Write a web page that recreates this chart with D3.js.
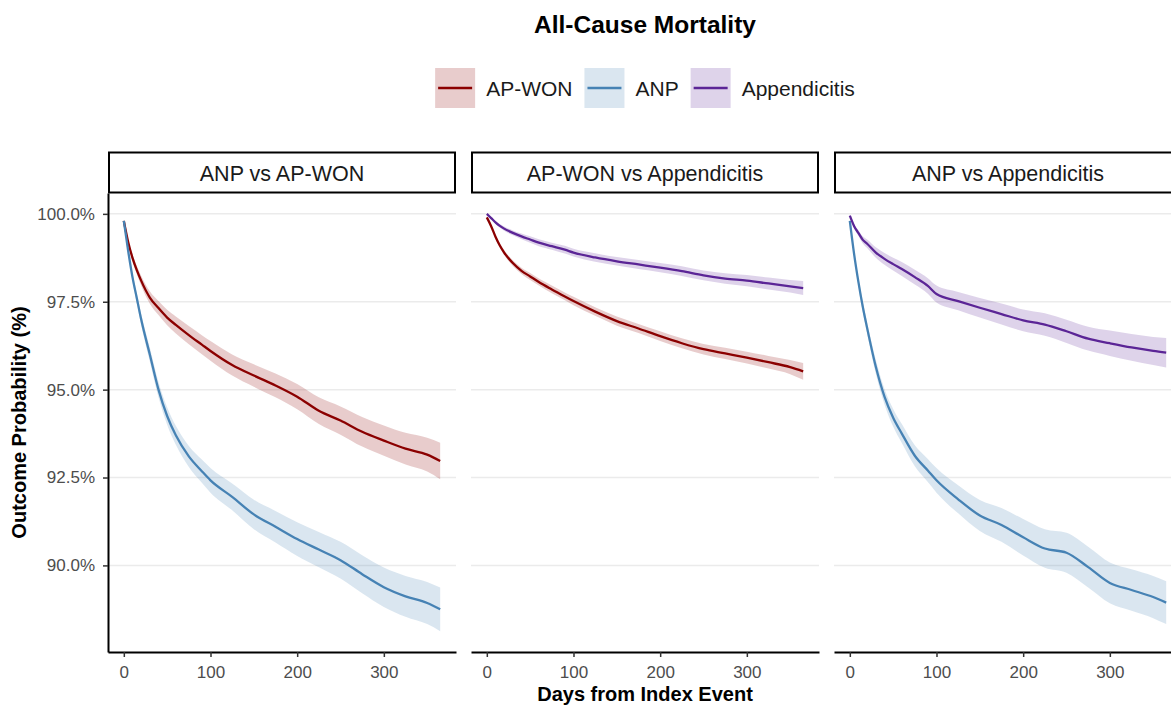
<!DOCTYPE html>
<html>
<head>
<meta charset="utf-8">
<script src="https://cdn.jsdelivr.net/npm/d3@7"></script>
<style>
  body { margin: 0; background: #fff; }
  svg { display: block; font-family: "Liberation Sans", Arial, Helvetica, sans-serif; }
  .grid line { stroke: #ebebeb; stroke-width: 1.5; }
  .axis path, .axis line { stroke: #000; }
  .axis .tick line { stroke: #333; stroke-width: 1.5; }
  .axis .domain { stroke-width: 2; }
  .axis text { font-size: 17px; fill: #4d4d4d; }
</style>
</head>
<body>
<svg id="chart" width="1171" height="706"></svg>
<script>
// days from index event (shared grid for all curves)
const days = [0, 5, 10, 15, 20, 30, 40, 50, 60, 75, 90, 100, 125, 150, 175, 200, 225, 250, 275, 300, 325, 350, 365];

const panelTitles = ['ANP vs AP-WON', 'AP-WON vs Appendicitis', 'ANP vs Appendicitis'];
const groups = ['AP-WON', 'ANP', 'Appendicitis'];
const groupColors = ['#8b0000', '#4682b4', '#5b2596'];
const yTicks = [90, 92.5, 95, 97.5, 100];
const xTicks = [0, 100, 200, 300];

// panel 1: ANP vs AP-WON
const p1ApwonEst = [99.8, 99.2, 98.75, 98.4, 98.1, 97.62, 97.32, 97.05, 96.84, 96.55, 96.28, 96.1, 95.7, 95.4, 95.12, 94.8, 94.4, 94.12, 93.8, 93.55, 93.32, 93.15, 92.97];
const p1ApwonUp  = [99.8, 99.26, 98.85, 98.52, 98.24, 97.8, 97.52, 97.27, 97.08, 96.81, 96.55, 96.38, 96.0, 95.72, 95.46, 95.16, 94.78, 94.52, 94.22, 93.98, 93.77, 93.63, 93.49];
const p1ApwonLo  = [99.8, 99.14, 98.65, 98.28, 97.96, 97.44, 97.12, 96.83, 96.6, 96.29, 96.01, 95.82, 95.4, 95.08, 94.78, 94.44, 94.02, 93.72, 93.38, 93.12, 92.87, 92.67, 92.45];
const p1AnpEst = [99.8, 98.95, 98.2, 97.6, 97.0, 96.0, 95.0, 94.25, 93.7, 93.1, 92.68, 92.42, 91.95, 91.45, 91.1, 90.75, 90.45, 90.15, 89.75, 89.38, 89.12, 88.93, 88.75];
const p1AnpUp  = [99.8, 99.03, 98.32, 97.74, 97.16, 96.2, 95.22, 94.5, 93.97, 93.4, 93.01, 92.77, 92.33, 91.87, 91.55, 91.23, 90.95, 90.67, 90.29, 89.94, 89.7, 89.53, 89.37];
const p1AnpLo  = [99.8, 98.87, 98.08, 97.46, 96.84, 95.8, 94.78, 94.0, 93.43, 92.8, 92.35, 92.07, 91.57, 91.03, 90.65, 90.27, 89.95, 89.63, 89.21, 88.82, 88.54, 88.33, 88.13];

// panel 2: AP-WON vs Appendicitis
const p2ApwonEst = [99.9, 99.65, 99.35, 99.1, 98.9, 98.6, 98.38, 98.22, 98.06, 97.85, 97.65, 97.52, 97.22, 96.95, 96.74, 96.52, 96.32, 96.15, 96.03, 95.91, 95.78, 95.64, 95.52];
const p2ApwonUp  = [99.9, 99.68, 99.4, 99.16, 98.97, 98.68, 98.47, 98.32, 98.16, 97.96, 97.76, 97.64, 97.34, 97.08, 96.87, 96.66, 96.46, 96.3, 96.19, 96.08, 95.96, 95.84, 95.76];
const p2ApwonLo  = [99.9, 99.62, 99.3, 99.04, 98.83, 98.52, 98.29, 98.12, 97.96, 97.74, 97.54, 97.4, 97.1, 96.82, 96.61, 96.38, 96.18, 96.0, 95.87, 95.74, 95.6, 95.44, 95.28];
const p2AppEst = [100.0, 99.88, 99.76, 99.66, 99.58, 99.46, 99.36, 99.27, 99.18, 99.08, 98.98, 98.9, 98.76, 98.65, 98.56, 98.47, 98.37, 98.25, 98.16, 98.1, 98.02, 97.94, 97.89];
const p2AppUp  = [100.0, 99.9, 99.8, 99.71, 99.64, 99.53, 99.44, 99.36, 99.28, 99.18, 99.09, 99.01, 98.88, 98.77, 98.69, 98.6, 98.51, 98.39, 98.31, 98.26, 98.19, 98.12, 98.09];
const p2AppLo  = [100.0, 99.86, 99.72, 99.61, 99.52, 99.39, 99.28, 99.18, 99.08, 98.98, 98.87, 98.79, 98.64, 98.53, 98.43, 98.34, 98.23, 98.11, 98.01, 97.94, 97.85, 97.76, 97.69];

// panel 3: ANP vs Appendicitis
const p3AnpEst = [99.8, 98.85, 98.05, 97.35, 96.75, 95.65, 94.8, 94.2, 93.75, 93.12, 92.7, 92.42, 91.88, 91.42, 91.15, 90.8, 90.48, 90.36, 89.95, 89.5, 89.3, 89.1, 88.94];
const p3AnpUp  = [99.8, 98.93, 98.17, 97.49, 96.91, 95.85, 95.02, 94.45, 94.02, 93.42, 93.03, 92.77, 92.28, 91.86, 91.63, 91.32, 91.03, 90.93, 90.53, 90.08, 89.89, 89.7, 89.55];
const p3AnpLo  = [99.8, 98.77, 97.93, 97.21, 96.59, 95.45, 94.58, 93.95, 93.48, 92.82, 92.37, 92.07, 91.48, 90.98, 90.67, 90.28, 89.93, 89.79, 89.37, 88.92, 88.71, 88.5, 88.33];
const p3AppEst = [99.95, 99.65, 99.45, 99.26, 99.15, 98.9, 98.72, 98.57, 98.43, 98.2, 97.95, 97.72, 97.52, 97.33, 97.15, 96.97, 96.85, 96.66, 96.45, 96.32, 96.2, 96.1, 96.05];
const p3AppUp  = [99.95, 99.7, 99.53, 99.36, 99.27, 99.05, 98.89, 98.75, 98.63, 98.41, 98.17, 97.96, 97.78, 97.61, 97.45, 97.28, 97.17, 96.99, 96.79, 96.68, 96.58, 96.5, 96.47];
const p3AppLo  = [99.95, 99.6, 99.37, 99.16, 99.03, 98.75, 98.55, 98.39, 98.23, 97.99, 97.73, 97.48, 97.26, 97.05, 96.85, 96.66, 96.53, 96.33, 96.11, 95.96, 95.82, 95.7, 95.63];

// curves per panel: [group index, est, lower, upper]
const panelSeries = [
  [[0, p1ApwonEst, p1ApwonLo, p1ApwonUp], [1, p1AnpEst, p1AnpLo, p1AnpUp]],
  [[0, p2ApwonEst, p2ApwonLo, p2ApwonUp], [2, p2AppEst, p2AppLo, p2AppUp]],
  [[1, p3AnpEst, p3AnpLo, p3AnpUp], [2, p3AppEst, p3AppLo, p3AppUp]],
];

// layout
const panelX0 = 108, panelW = 348, panelGap = 15;
const panelTop = 193, panelBottom = 652;
const stripTop = 152.5, stripH = 40;

const svg = d3.select('#chart');

// shared scales (fixed across facets, 5% expansion like ggplot)
const allVals = panelSeries.flat().flatMap(s => s[2].concat(s[3]));
const yMin = d3.min(allVals), yMax = d3.max(allVals);
const yPad = (yMax - yMin) * 0.05;
const yScale = d3.scaleLinear()
                 .domain([yMin - yPad, yMax + yPad])
                 .range([panelBottom, panelTop]);
const xPad = (d3.max(days) - d3.min(days)) * 0.05;
const xScale = d3.scaleLinear()
                 .domain([d3.min(days) - xPad, d3.max(days) + xPad])
                 .range([0, panelW]);

const area = d3.area()
  .x((d, i) => xScale(days[i]))
  .y0(d => yScale(d[0]))
  .y1(d => yScale(d[1]))
  .curve(d3.curveMonotoneX);
const line = d3.line()
  .x((d, i) => xScale(days[i]))
  .y(d => yScale(d))
  .curve(d3.curveMonotoneX);

panelTitles.forEach((title, p) => {
  const px = panelX0 + p * (panelW + panelGap);
  const g = svg.append('g').attr('transform', `translate(${px},0)`);

  // gridlines
  g.append('g').attr('class', 'grid')
    .selectAll('line').data(yTicks).enter().append('line')
    .attr('x1', 0).attr('x2', panelW)
    .attr('y1', d => yScale(d)).attr('y2', d => yScale(d));

  // ribbons first, then lines
  panelSeries[p].forEach(s => {
    g.append('path')
      .datum(s[2].map((lo, i) => [lo, s[3][i]]))
      .attr('d', area)
      .attr('fill', groupColors[s[0]])
      .attr('fill-opacity', 0.2);
  });
  panelSeries[p].forEach(s => {
    g.append('path')
      .datum(s[1])
      .attr('d', line)
      .attr('fill', 'none')
      .attr('stroke', groupColors[s[0]])
      .attr('stroke-width', 2.3);
  });

  // x axis
  g.append('g').attr('class', 'axis')
    .attr('transform', `translate(0,${panelBottom})`)
    .call(d3.axisBottom(xScale).tickValues(xTicks).tickSize(5).tickSizeOuter(0).tickPadding(8.5));

  // y axis only on first panel
  if (p === 0) {
    g.append('g').attr('class', 'axis')
      .call(d3.axisLeft(yScale).tickValues(yTicks).tickSize(5).tickSizeOuter(0).tickPadding(8)
        .tickFormat(d => d.toFixed(1) + '%'));
  }

  // strip
  g.append('rect')
    .attr('x', 1).attr('y', stripTop)
    .attr('width', panelW - 2).attr('height', stripH)
    .attr('fill', '#fff').attr('stroke', '#000').attr('stroke-width', 2);
  g.append('text')
    .attr('x', panelW / 2).attr('y', stripTop + 28.2)
    .attr('text-anchor', 'middle')
    .style('font-size', '21.5px').attr('fill', '#1a1a1a')
    .text(title);
});

const plotCenter = panelX0 + (3 * panelW + 2 * panelGap) / 2;

// title
svg.append('text')
  .attr('x', plotCenter).attr('y', 33)
  .attr('text-anchor', 'middle')
  .style('font-size', '24.5px').style('font-weight', 'bold')
  .text('All-Cause Mortality');

// axis titles
svg.append('text')
  .attr('x', plotCenter).attr('y', 701)
  .attr('text-anchor', 'middle')
  .style('font-size', '20px').style('font-weight', 'bold')
  .text('Days from Index Event');
svg.append('text')
  .attr('transform', `translate(26,${(panelTop + panelBottom) / 2}) rotate(-90)`)
  .attr('text-anchor', 'middle')
  .style('font-size', '20px').style('font-weight', 'bold')
  .text('Outcome Probability (%)');

// legend
const keySize = 40, keyGap = 11, itemGap = 12, legendMid = 88;
const legend = svg.append('g');
const items = groups.map((name, i) => {
  const it = legend.append('g');
  it.append('rect').attr('width', keySize).attr('height', keySize)
    .attr('y', legendMid - keySize / 2)
    .attr('fill', groupColors[i]).attr('fill-opacity', 0.2);
  it.append('line')
    .attr('x1', 3).attr('x2', keySize - 3)
    .attr('y1', legendMid).attr('y2', legendMid)
    .attr('stroke', groupColors[i]).attr('stroke-width', 2.5);
  const t = it.append('text')
    .attr('x', keySize + keyGap).attr('y', legendMid + 7.5)
    .style('font-size', '21px').attr('fill', '#1a1a1a')
    .text(name);
  return { g: it, w: keySize + keyGap + t.node().getComputedTextLength() };
});
const totalW = d3.sum(items, d => d.w) + itemGap * (items.length - 1);
let lx = plotCenter - totalW / 2;
items.forEach(d => {
  d.g.attr('transform', `translate(${lx},0)`);
  lx += d.w + itemGap;
});
</script>
</body>
</html>
